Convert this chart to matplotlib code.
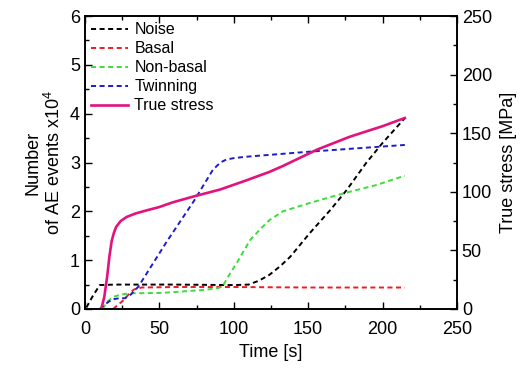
import matplotlib

matplotlib.use("Agg")
import matplotlib.pyplot as plt
from matplotlib.ticker import MultipleLocator

plt.rcParams["font.family"] = ["Liberation Sans", "DejaVu Sans"]
plt.rcParams["mathtext.default"] = "regular"

# AE event counts (x10^4)
noise_t = [1, 5, 10, 20, 60, 100, 110, 117, 124, 131, 138, 151, 165, 176, 189, 200, 215]
noise_v = [0.03, 0.25, 0.49, 0.5, 0.5, 0.49, 0.5, 0.58, 0.70, 0.87, 1.07, 1.55, 2.03, 2.44, 2.99, 3.40, 3.91]

basal_t = [19, 22, 26, 30, 33, 38, 60, 100, 150, 215]
basal_v = [0.0, 0.08, 0.18, 0.32, 0.40, 0.44, 0.45, 0.45, 0.44, 0.44]

nonbasal_t = [12, 15, 19, 25, 30, 52, 80, 90, 93, 97, 102, 106, 111, 118, 124, 133, 151, 174, 196, 215]
nonbasal_v = [0.0, 0.15, 0.25, 0.3, 0.32, 0.33, 0.39, 0.43, 0.49, 0.7, 0.94, 1.15, 1.41, 1.64, 1.82, 2.0, 2.17, 2.37, 2.54, 2.73]

twin_t = [10, 13, 16, 19, 23, 27, 31, 36, 55, 73, 86, 91, 95, 100, 109, 150, 215]
twin_v = [0.0, 0.08, 0.15, 0.2, 0.22, 0.22, 0.3, 0.46, 1.38, 2.2, 2.85, 3.0, 3.06, 3.09, 3.12, 3.22, 3.36]

# true stress [MPa]
stress_t = [11, 13, 15, 16.5, 18, 19.5, 21, 24, 28, 34, 41, 50, 59, 73, 91, 109, 124, 133, 156, 178, 200, 215]
stress_v = [0, 10, 28, 45, 58, 65, 70, 75, 78.5, 81.5, 84, 87, 91, 96, 102, 110, 117, 122, 136, 147, 156, 163]

fig = plt.figure(figsize=(5.24, 3.73), dpi=100)
ax = fig.add_axes([0.162, 0.1716, 0.710, 0.7854])
ax2 = ax.twinx()

dash = (0, (2.6, 1.8))
ax.plot(noise_t, noise_v, color="black", lw=1.4, ls=dash, label="Noise")
ax.plot(basal_t, basal_v, color="#ee1c24", lw=1.4, ls=dash, label="Basal")
ax.plot(nonbasal_t, nonbasal_v, color="#3ddc3d", lw=1.4, ls=dash, label="Non-basal")
ax.plot(twin_t, twin_v, color="#1c1ccc", lw=1.4, ls=dash, label="Twinning")
ax2.plot(stress_t, stress_v, color="#e3127c", lw=1.9, label="True stress")

ax.set_xlim(0, 250)
ax.set_ylim(0, 6)
ax2.set_ylim(0, 250)

ax.xaxis.set_major_locator(MultipleLocator(50))
ax.xaxis.set_minor_locator(MultipleLocator(25))
ax.yaxis.set_major_locator(MultipleLocator(1))
ax.yaxis.set_minor_locator(MultipleLocator(0.5))
ax2.yaxis.set_major_locator(MultipleLocator(50))
ax2.yaxis.set_minor_locator(MultipleLocator(25))

ax.tick_params(which="both", direction="in", top=True, labelsize=13, width=1.0)
ax.tick_params(axis="y", which="both", right=False)
ax.tick_params(axis="x", which="major", pad=9)
ax.tick_params(which="major", length=5)
ax.tick_params(which="minor", length=3)
ax2.tick_params(which="both", direction="in", labelsize=13, width=1.0)
ax2.tick_params(which="major", length=5)
ax2.tick_params(which="minor", length=3)

for a in (ax, ax2):
    for s in a.spines.values():
        s.set_linewidth(1.2)

ax.set_xlabel("Time [s]", fontsize=13, labelpad=4)
ax.set_ylabel("Number\nof AE events x10$^4$", fontsize=13, labelpad=4)
ax2.set_ylabel("True stress [MPa]", fontsize=13, labelpad=6)

h1, l1 = ax.get_legend_handles_labels()
h2, l2 = ax2.get_legend_handles_labels()
ax.legend(h1 + h2, l1 + l2, loc="upper left", frameon=False, fontsize=11.5,
          handlelength=2.3, handletextpad=0.4, labelspacing=0.25,
          borderaxespad=0.0, bbox_to_anchor=(0.0, 1.0))

fig.savefig("out.png", dpi=100)
